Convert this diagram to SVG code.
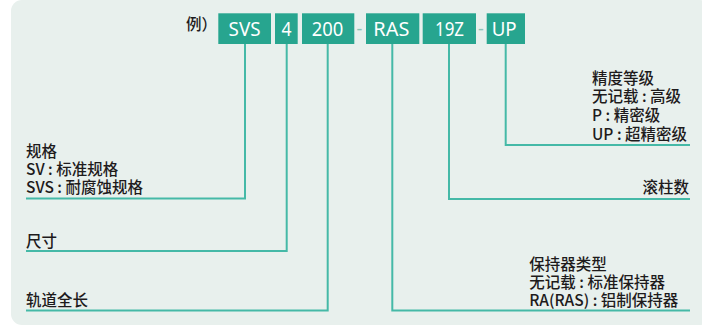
<svg xmlns="http://www.w3.org/2000/svg" width="702" height="326" viewBox="0 0 702 326">
<style>
.bg{fill:#e8f0ed}
.box{fill:#27a58f}
.bt{fill:#ffffff;font-family:"Noto Sans","Liberation Sans",sans-serif;font-size:19.5px;text-anchor:middle}
.lb{fill:#1e1b1c;font-family:"Noto Sans CJK SC","Noto Sans",sans-serif;font-size:15.5px;font-weight:500}
.dash{fill:#8cc4b8;font-family:"Noto Sans","Liberation Sans",sans-serif;font-size:18px;text-anchor:middle}
.con{fill:none;stroke:#45b9a7;stroke-width:2}
</style>
<rect class="bg" x="11" y="0" width="700" height="325" rx="11"/>
<g id="example-label">
<text class="lb" x="186" y="30" font-size="16.5">例）</text>
</g>
<g id="code-SVS">
<rect class="box" x="218.3" y="13.3" width="52.7" height="30.7"/>
<text class="bt" x="244.6" y="35.7" textLength="32" lengthAdjust="spacingAndGlyphs">SVS</text>
</g>
<g id="code-4">
<rect class="box" x="275" y="13.3" width="22.7" height="30.7"/>
<text class="bt" x="286.5" y="35.7" textLength="10" lengthAdjust="spacingAndGlyphs">4</text>
</g>
<g id="code-200">
<rect class="box" x="302" y="13.3" width="52.3" height="30.7"/>
<text class="bt" x="327.5" y="35.7" textLength="31.6" lengthAdjust="spacingAndGlyphs">200</text>
</g>
<g id="dash-1"><text class="dash" x="359.5" y="35">-</text></g>
<g id="code-RAS">
<rect class="box" x="366" y="13.3" width="53.3" height="30.7"/>
<text class="bt" x="391.3" y="35.7" textLength="36" lengthAdjust="spacingAndGlyphs">RAS</text>
</g>
<g id="code-19Z">
<rect class="box" x="422.7" y="13.3" width="53.3" height="30.7"/>
<text class="bt" x="449.5" y="35.7" textLength="29" lengthAdjust="spacingAndGlyphs">19Z</text>
</g>
<g id="dash-2"><text class="dash" x="481" y="35">-</text></g>
<g id="code-UP">
<rect class="box" x="486.7" y="13.3" width="38.3" height="30.7"/>
<text class="bt" x="504.2" y="35.7" textLength="25" lengthAdjust="spacingAndGlyphs">UP</text>
</g>
<g id="connectors">
<path class="con" d="M245 44 V198.5 H26"/>
<path class="con" d="M286.7 44 V251 H26"/>
<path class="con" d="M327.7 44 V310.5 H26"/>
<path class="con" d="M392.3 44 V310.5 H690"/>
<path class="con" d="M449 44 V199 H690"/>
<path class="con" d="M505.7 44 V145 H690"/>
</g>
<g id="label-spec">
<text class="lb" x="26" y="157">规格</text>
<text class="lb" x="26" y="175">SV : 标准规格</text>
<text class="lb" x="26" y="193">SVS : 耐腐蚀规格</text>
</g>
<g id="label-size">
<text class="lb" x="26" y="247">尺寸</text>
</g>
<g id="label-length">
<text class="lb" x="26" y="306">轨道全长</text>
</g>
<g id="label-precision">
<text class="lb" x="592" y="84">精度等级</text>
<text class="lb" x="592" y="102">无记载 : 高级</text>
<text class="lb" x="592" y="121">P : 精密级</text>
<text class="lb" x="592" y="140">UP : 超精密级</text>
</g>
<g id="label-rollers">
<text class="lb" x="689" y="193" text-anchor="end">滚柱数</text>
</g>
<g id="label-retainer">
<text class="lb" x="529.3" y="270">保持器类型</text>
<text class="lb" x="529.3" y="288">无记载 : 标准保持器</text>
<text class="lb" x="529.3" y="306">RA(RAS) : 铝制保持器</text>
</g>
</svg>
